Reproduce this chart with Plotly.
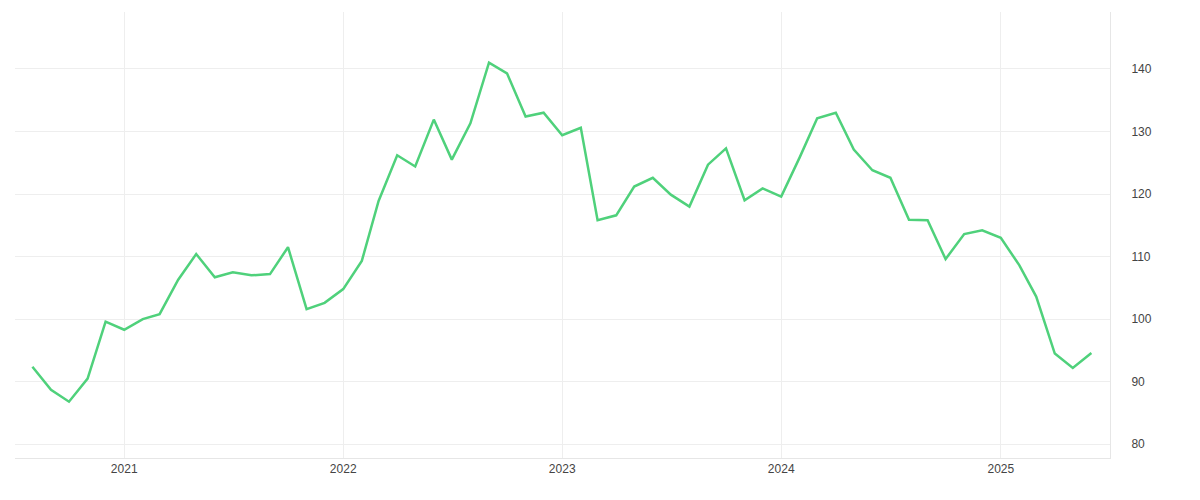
import plotly.graph_objects as go
import pandas as pd

dates = pd.date_range("2020-08-01", "2025-06-01", freq="MS")
values = [92.4, 88.7, 86.8, 90.5, 99.6,
          98.3, 100.0, 100.8, 106.3, 110.4, 106.7, 107.5, 107.0, 107.2, 111.5, 101.6, 102.6,
          104.8, 109.3, 118.9, 126.2, 124.4, 131.9, 125.5, 131.3, 141.0, 139.3, 132.4, 133.0,
          129.4, 130.6, 115.8, 116.6, 121.2, 122.6, 119.9, 118.0, 124.7, 127.3, 119.0, 120.9,
          119.6, 125.9, 132.1, 133.0, 127.1, 123.8, 122.6, 115.9, 115.8, 109.6, 113.6, 114.2,
          113.0, 108.6, 103.6, 94.5, 92.2, 94.6]
yticks = [80, 90, 100, 110, 120, 130, 140]

fig = go.Figure(go.Scatter(x=dates, y=values, mode="lines",
                           line=dict(color="#4fd17b", width=2.5), hoverinfo="skip"))
fig.update_layout(
    width=1200, height=500, plot_bgcolor="white", paper_bgcolor="white",
    margin=dict(l=7, r=98, t=4, b=50), showlegend=False,
    font=dict(family="Liberation Sans, Arial", size=12, color="#444"),
    xaxis=dict(range=["2020-07-03", "2025-07-02"], showgrid=True, gridcolor="#eeeeee",
               tickformat="%Y", dtick="M12", tick0="2021-01-01", showline=True,
               linecolor="#e6e6e6", ticks="", zeroline=False),
    yaxis=dict(side="right", range=[77.8, 149.1], tickvals=yticks, showgrid=True,
               gridcolor="#eeeeee", showline=True, linecolor="#e6e6e6", ticks="outside",
               ticklen=18, tickcolor="rgba(0,0,0,0)", zeroline=False),
)
fig.write_html("out.html")
